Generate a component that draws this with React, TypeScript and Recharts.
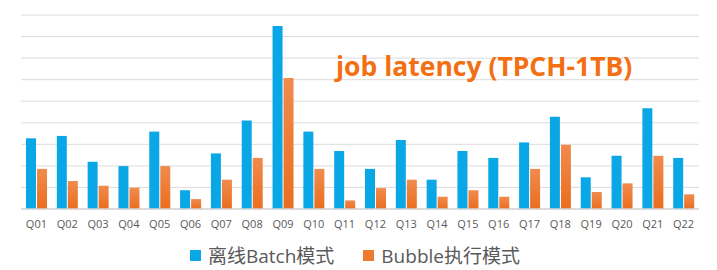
import React from 'react';
import { BarChart, Bar, XAxis, YAxis, CartesianGrid, Legend } from 'recharts';

const categories = ['Q01','Q02','Q03','Q04','Q05','Q06','Q07','Q08','Q09','Q10','Q11','Q12','Q13','Q14','Q15','Q16','Q17','Q18','Q19','Q20','Q21','Q22'];
const batchValues = [3.28, 3.39, 2.19, 1.99, 3.59, 0.87, 2.58, 4.10, 8.49, 3.59, 2.69, 1.86, 3.20, 1.36, 2.69, 2.37, 3.09, 4.28, 1.47, 2.47, 4.67, 2.37];
const bubbleValues = [1.86, 1.30, 1.08, 0.99, 1.99, 0.46, 1.36, 2.37, 6.08, 1.86, 0.40, 0.97, 1.36, 0.57, 0.87, 0.57, 1.86, 2.98, 0.79, 1.19, 2.47, 0.68];
const yTicks = [0, 1, 2, 3, 4, 5, 6, 7, 8, 9];
const seriesNames = ['离线Batch模式', 'Bubble执行模式'];
const titleText = 'job latency (TPCH-1TB)';

const data = categories.map((c, i) => ({ name: c, batch: batchValues[i], bubble: bubbleValues[i] }));

const BLUE = '#0AA7E6';
const ORANGE = '#EE7A30';
const FONT = '"Open Sans", "Noto Sans CJK SC", sans-serif';

const LegendContent = () => (
  <div style={{ display: 'flex', justifyContent: 'center', alignItems: 'center', height: 22, fontFamily: FONT, fontSize: 19, color: '#595959', paddingRight: 10 }}>
    <div style={{ display: 'flex', alignItems: 'center', marginRight: 29 }}>
      <span style={{ display: 'inline-block', width: 11, height: 11, background: BLUE, marginRight: 7 }} />
      <span>{seriesNames[0]}</span>
    </div>
    <div style={{ display: 'flex', alignItems: 'center' }}>
      <span style={{ display: 'inline-block', width: 11, height: 11, background: ORANGE, marginRight: 7 }} />
      <span>{seriesNames[1]}</span>
    </div>
  </div>
);

export default function App() {
  return (
    <div style={{ position: 'absolute', left: 0, top: 0, width: 717, height: 270, background: '#fff' }}>
      <BarChart
        width={717}
        height={270}
        data={data}
        margin={{ top: 15, right: 18, left: 21, bottom: 4 }}
        barSize={10}
        barGap={1}
      >
        <defs>
          <linearGradient id="orangeGrad" x1="0" y1="0" x2="0" y2="1">
            <stop offset="0%" stopColor="#F08B4E" />
            <stop offset="100%" stopColor="#EA6E1F" />
          </linearGradient>
        </defs>
        <CartesianGrid horizontal vertical={false} stroke="#dcdcdc" />
        <XAxis
          dataKey="name"
          height={35}
          tickLine={false}
          axisLine={{ stroke: '#d4d4d4', strokeWidth: 1.5 }}
          tick={{ fill: '#595959', fontSize: 11, fontFamily: FONT }}
          tickMargin={5}
          interval={0}
        />
        <YAxis hide domain={[0, 9]} ticks={yTicks} interval={0} />
        <Legend verticalAlign="bottom" height={22} content={() => <LegendContent />} />
        <Bar dataKey="batch" name={seriesNames[0]} fill={BLUE} isAnimationActive={false} />
        <Bar dataKey="bubble" name={seriesNames[1]} fill="url(#orangeGrad)" isAnimationActive={false} />
      </BarChart>
      <svg width={717} height={270} style={{ position: 'absolute', left: 0, top: 0, pointerEvents: 'none' }}>
        <text x={336} y={76} fill="#F26F12" fontSize={26.5} fontWeight="bold" fontFamily={FONT}>{titleText}</text>
      </svg>
    </div>
  );
}
